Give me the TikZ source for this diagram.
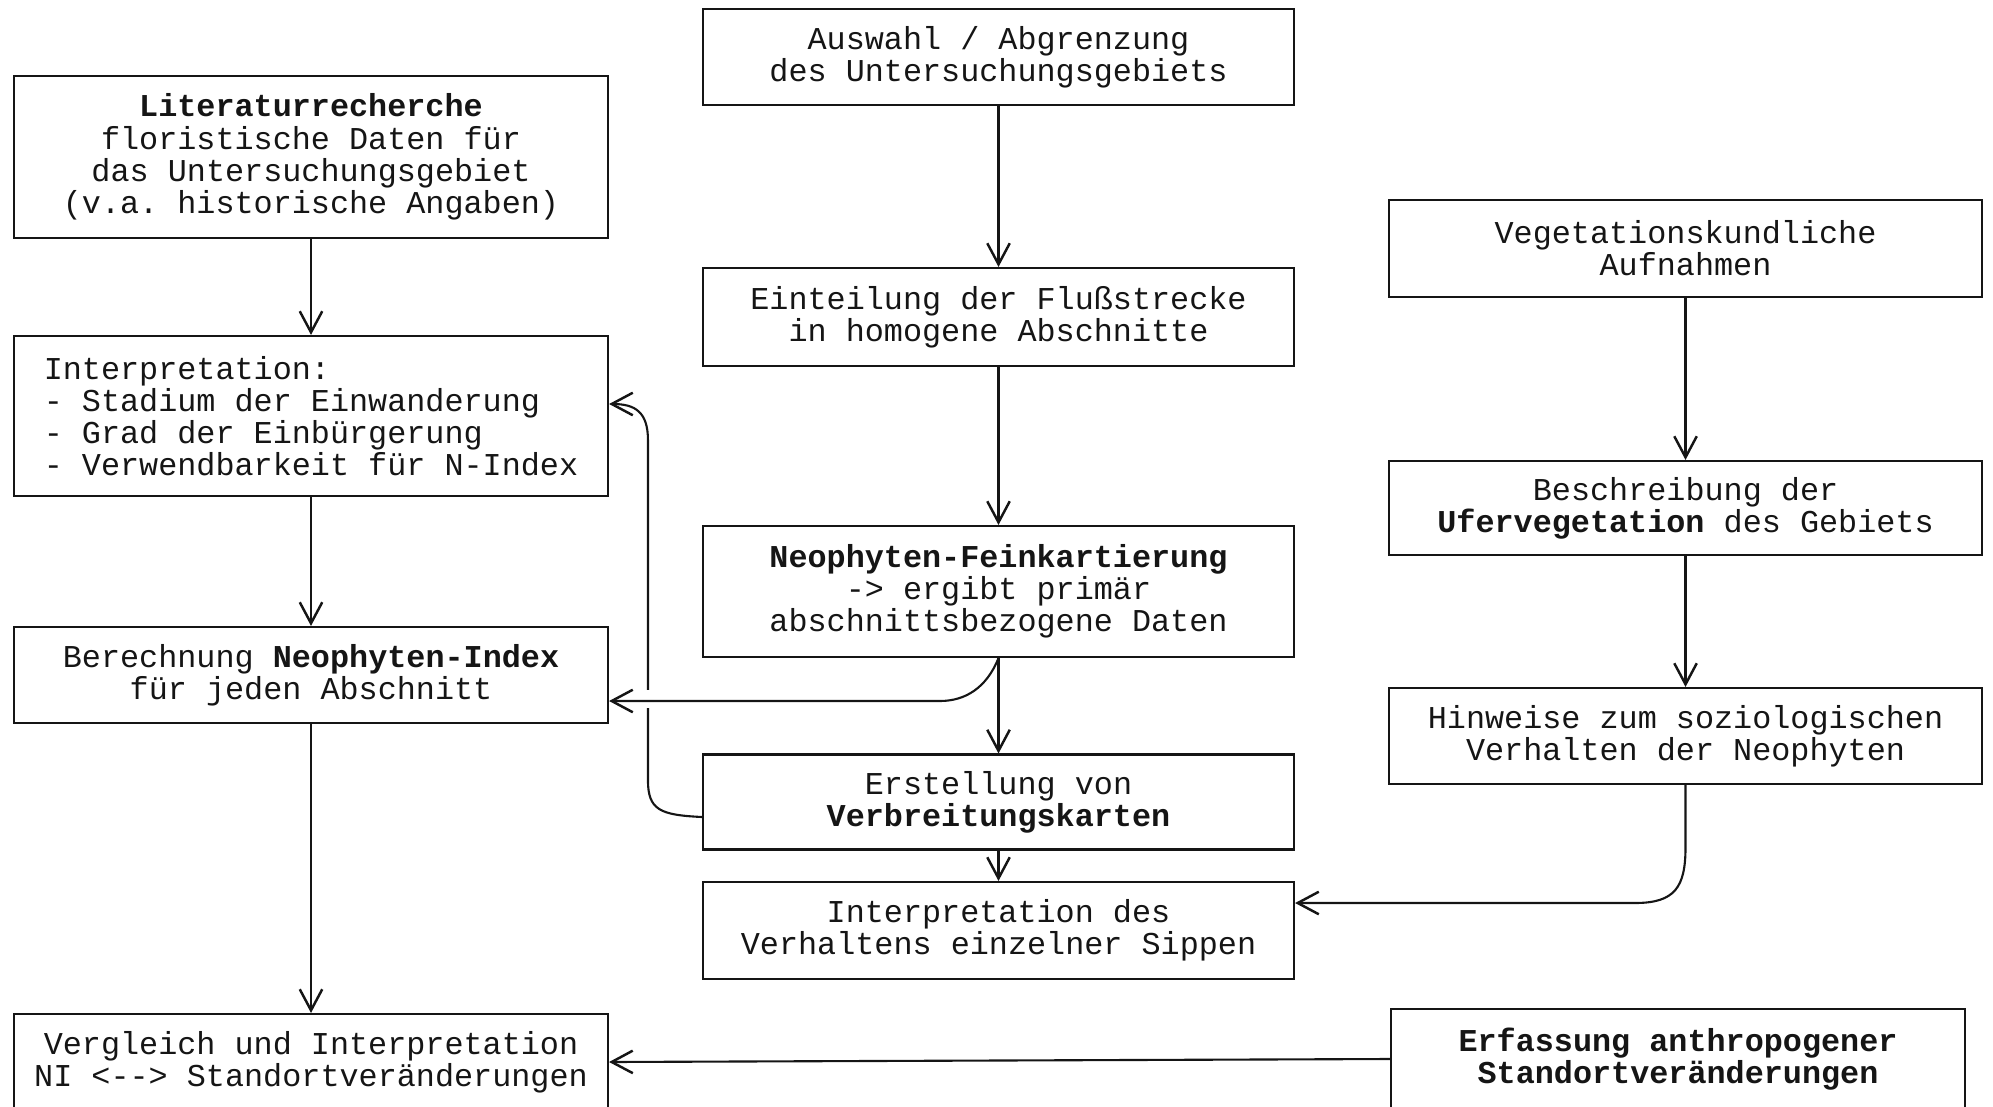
\documentclass[tikz,border=0pt]{standalone}
\usepackage{fontspec}
\setmonofont{Liberation Mono}
\usetikzlibrary{arrows.meta}

\definecolor{inkBlack}{HTML}{151515}

\begin{document}
\begin{tikzpicture}[scale=1,
    box/.style={draw=inkBlack, line width=0.6pt, inner sep=0pt, align=center,
        text=inkBlack, font=\ttfamily\fontsize{9.05}{9.15}\selectfont},
    flow/.style={draw=inkBlack, line width=0.6pt,
        -{Straight Barb[length=6pt, width=6.4pt, line width=0.7pt]}}
]
    \useasboundingbox (0,0) rectangle (19.93,-11.06);

    \node[box, minimum width=5.94cm, minimum height=1.62cm] (lit) at (3.11,-1.57)
        {\textbf{Literaturrecherche}\\floristische Daten für\\das Untersuchungsgebiet\\(v.a. historische Angaben)};
    \node[box, align=left, minimum width=5.94cm, minimum height=1.60cm] (interp) at (3.11,-4.16)
        {Interpretation:\\- Stadium der Einwanderung\\- Grad der Einbürgerung\\- Verwendbarkeit für N-Index};
    \node[box, minimum width=5.94cm, minimum height=0.96cm] (berech) at (3.11,-6.75)
        {Berechnung \textbf{Neophyten-Index}\\für jeden Abschnitt};
    \node[box, minimum width=5.94cm, minimum height=0.96cm] (vergl) at (3.11,-10.62)
        {Vergleich und Interpretation\\NI <{-}{-}> Standortveränderungen};

    \node[box, minimum width=5.91cm, minimum height=0.96cm] (auswahl) at (9.985,-0.57)
        {Auswahl / Abgrenzung\\des Untersuchungsgebiets};
    \node[box, minimum width=5.91cm, minimum height=0.98cm] (eint) at (9.985,-3.17)
        {Einteilung der Flußstrecke\\in homogene Abschnitte};
    \node[box, minimum width=5.91cm, minimum height=1.31cm] (feink) at (9.985,-5.915)
        {\textbf{Neophyten-Feinkartierung}\\-> ergibt primär\\abschnittsbezogene Daten};
    \node[box, minimum width=5.91cm, minimum height=0.95cm] (erst) at (9.985,-8.02)
        {Erstellung von\\\textbf{Verbreitungskarten}};
    \node[box, minimum width=5.91cm, minimum height=0.97cm] (verh) at (9.985,-9.305)
        {Interpretation des\\Verhaltens einzelner Sippen};

    \node[box, minimum width=5.93cm, minimum height=0.97cm] (veg) at (16.855,-2.485)
        {Vegetationskundliche\\Aufnahmen};
    \node[box, minimum width=5.93cm, minimum height=0.94cm] (beschr) at (16.855,-5.08)
        {Beschreibung der\\\textbf{Ufervegetation} des Gebiets};
    \node[box, minimum width=5.93cm, minimum height=0.96cm] (hinw) at (16.855,-7.36)
        {Hinweise zum soziologischen\\Verhalten der Neophyten};
    \node[box, minimum width=5.74cm, minimum height=1.00cm] (erfass) at (16.78,-10.59)
        {\textbf{Erfassung anthropogener}\\\textbf{Standortveränderungen}};

    \draw[flow] (auswahl) -- (eint);
    \draw[flow] (eint) -- (feink);
    \draw[flow] (feink) -- (erst);
    \draw[flow] (erst) -- (verh);
    \draw[flow] (lit) -- (interp);
    \draw[flow] (interp) -- (berech);
    \draw[flow] (berech) -- (vergl);
    \draw[flow] (veg) -- (beschr);
    \draw[flow] (beschr) -- (hinw);
    \draw[flow] (erfass.west) -- (vergl.east);

    % loop back from the maps to the interpretation
    \coordinate (loopbot) at (6.48,-8.17);
    \coordinate (looptop) at (6.48,-4.04);
    \draw[flow] (erst.west |- loopbot) .. controls +(-0.42,0.02) and +(0,-0.3) .. ++(-0.54,0.37)
        -- ++(0,3.40) .. controls +(0,0.28) and +(0.26,0) .. (interp.east |- looptop);
    \fill[white] (6.42,-6.90) rectangle (6.54,-7.08);

    \coordinate (fkbend) at (9.40,-7.01);
    \draw[flow] (feink.south) .. controls +(-0.12,-0.3) and +(0.25,0) .. (fkbend) -- (fkbend -| berech.east);

    \coordinate (hwbend) at (16.35,-9.03);
    \draw[flow] (hinw.south) -- ++(0,-0.62) .. controls +(0,-0.4) and +(0.4,0) .. (hwbend) -- (hwbend -| verh.east);
\end{tikzpicture}
\end{document}
